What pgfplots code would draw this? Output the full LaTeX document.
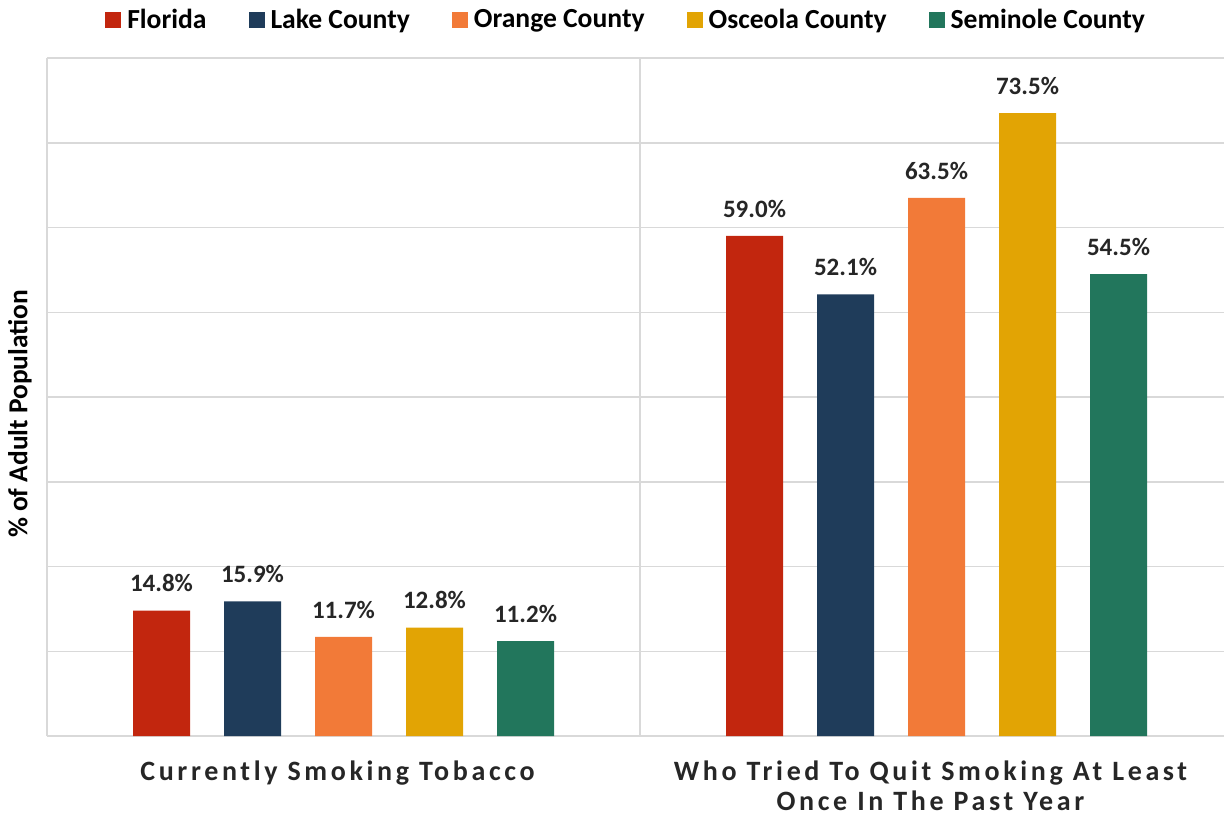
\documentclass[border=0pt]{standalone}
\usepackage{fontspec}
\setmainfont{Carlito}
\usepackage{pgfplots}
\pgfplotsset{compat=1.18}
\definecolor{cFL}{RGB}{194,38,14}
\definecolor{cLK}{RGB}{31,60,90}
\definecolor{cOR}{RGB}{242,122,56}
\definecolor{cOS}{RGB}{226,164,4}
\definecolor{cSE}{RGB}{34,118,92}
\definecolor{gridc}{RGB}{217,217,217}
\definecolor{txt}{RGB}{38,38,38}
\begin{document}
\begin{tikzpicture}
\begin{axis}[
  at={(23.5pt,42.5pt)}, anchor=south west,
  scale only axis, width=593pt, height=339pt,
  ymin=0, ymax=80, xmin=-0.5, xmax=1.5,
  ybar=17pt, bar width=28.5pt,
  ytick={0,10,...,80}, yticklabels={}, ymajorgrids,
  grid style={draw=gridc, line width=0.75pt},
  xtick={0,1},
  xticklabels={{Currently Smoking Tobacco},{Who Tried To Quit Smoking At Least\\Once In The Past Year}},
  xticklabel style={font=\bfseries\fontsize{14}{15}\selectfont\addfontfeature{LetterSpace=13}, align=center, text=txt, anchor=north, yshift=-9pt, xshift=-3pt},
  major tick length=0pt,
  extra x ticks={0.5}, extra x tick labels={}, extra x tick style={grid=major},
  axis x line*=bottom, axis y line*=left,
  axis line style={draw=gridc, line width=1pt, -},
  ylabel={\% of Adult Population},
  ylabel style={at={(axis description cs:-0.0228,0.475)}, anchor=center, font=\bfseries\fontsize{13.7}{15}\selectfont, text=black},
  /pgf/number format/assume math mode=true,
  nodes near coords={\pgfmathprintnumber[fixed,fixed zerofill,precision=1]{\pgfplotspointmeta}\%},
  nodes near coords style={anchor=south, inner sep=0pt, yshift=9pt, font=\bfseries\fontsize{12.5}{15}\selectfont, text=txt},
  legend style={at={(0.4874,1)}, anchor=south, yshift=11pt, xshift=1pt, draw=none, inner sep=0pt, font=\bfseries\fontsize{13.8}{15}\selectfont,
    /tikz/every even column/.append style={column sep=19pt},
    /tikz/every odd column/.append style={column sep=1pt}},
  legend columns=-1,
  legend image code/.code={\fill[#1] (0pt,-4pt) rectangle (8pt,4pt);},
]
\addplot[fill=cFL, draw=none] coordinates {(0,14.8) (1,59.0)};
\addplot[fill=cLK, draw=none] coordinates {(0,15.9) (1,52.1)};
\addplot[fill=cOR, draw=none] coordinates {(0,11.7) (1,63.5)};
\addplot[fill=cOS, draw=none] coordinates {(0,12.8) (1,73.5)};
\addplot[fill=cSE, draw=none] coordinates {(0,11.2) (1,54.5)};
\legend{Florida, Lake County, Orange County, Osceola County, Seminole County}
\end{axis}
\pgfresetboundingbox
\path (0,0) rectangle (612pt,410.5pt);
\end{tikzpicture}
\end{document}
